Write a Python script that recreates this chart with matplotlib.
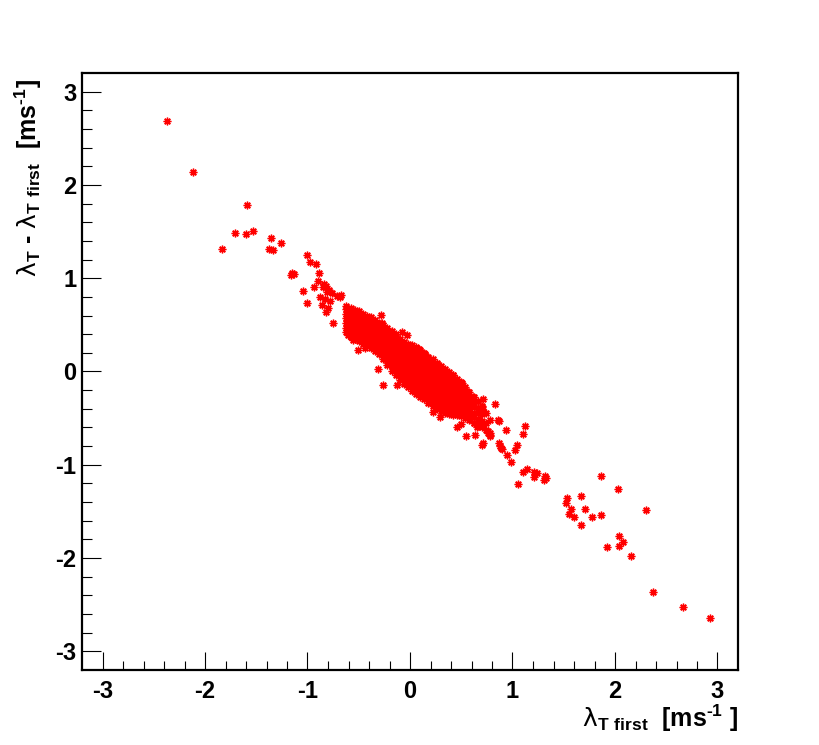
import matplotlib
matplotlib.use("Agg")
import matplotlib.pyplot as plt
import numpy as np

plt.rcParams['font.family'] = ['Liberation Sans', 'DejaVu Sans']
plt.rcParams['font.weight'] = 'bold'
plt.rcParams['axes.unicode_minus'] = False
plt.rcParams['mathtext.fontset'] = 'custom'
plt.rcParams['mathtext.rm'] = 'Liberation Sans:bold'
plt.rcParams['mathtext.bf'] = 'Liberation Sans:bold'
plt.rcParams['mathtext.sf'] = 'DejaVu Sans:normal'

# scattered points outside the dense core (lambda_T first, lambda_T - lambda_T first)
tail_x = [-2.37, -2.12, -1.59, -1.71, -1.60, -1.53, -1.83, -1.36, -1.26, -1.38, -1.34,
          -1.00, -0.98, -0.92, -1.15, -1.16, -1.13, -0.885, -0.895, -0.94, -1.04, -1.00,
          -0.84, -0.85, -0.82, -0.79, -0.81, -0.76, -0.715, -0.68, -0.67, -0.88, -0.83,
          -0.78, -0.86, -0.80, -0.82, -0.62, -0.60, -0.55, -0.53, -0.755]
tail_y = [2.69, 2.14, 1.78, 1.48, 1.47, 1.51, 1.31, 1.43, 1.38, 1.31, 1.30,
          1.25, 1.17, 1.15, 1.06, 1.03, 1.05, 1.06, 0.975, 0.91, 0.86, 0.73,
          0.94, 0.91, 0.92, 0.87, 0.85, 0.84, 0.81, 0.80, 0.82, 0.80, 0.78,
          0.76, 0.71, 0.68, 0.64, 0.70, 0.63, 0.65, 0.63, 0.52]

edge_x = [-0.28, -0.27, -0.51, -0.44, -0.56, -0.60, -0.31, -0.26, -0.13, -0.21, -0.08,
          -0.03, -0.15, 0.09, 0.15, 0.26, 0.325, 0.42, 0.51, 0.57, 0.61, 0.715, 0.83,
          0.70, 0.71, 0.86, 0.87, 1.12, 1.10, 0.94, 0.78, 0.765, 0.715, 0.705, 0.87,
          0.885, 1.04, 1.02, 0.95, 0.985, 0.55, 0.63, 0.455, 0.50, 0.29, 0.22, 0.88,
          0.895, 0.62, 0.65, 0.765, 0.78, 0.585, 0.67, 0.715]
edge_y = [0.61, 0.52, 0.23, 0.25, 0.34, 0.39, 0.03, -0.14, -0.14, 0.43, 0.42,
          0.39, 0.38, 0.24, 0.19, 0.075, 0.02, -0.035, -0.12, -0.22, -0.27, -0.29, -0.35,
          -0.365, -0.42, -0.52, -0.53, -0.58, -0.67, -0.63, -0.68, -0.64, -0.77, -0.79, -0.77,
          -0.82, -0.785, -0.84, -0.89, -0.965, -0.69, -0.68, -0.59, -0.56, -0.49, -0.43, -0.80,
          -0.83, -0.55, -0.59, -0.66, -0.695, -0.44, -0.52, -0.57]

low_x = [1.10, 1.14, 1.21, 1.21, 1.235, 1.32, 1.31, 1.33, 1.05, 1.86, 2.03, 2.30,
         1.535, 1.52, 1.67, 1.575, 1.71, 1.555, 1.60, 1.78, 1.86, 1.67, 2.04, 2.08,
         2.04, 1.925, 2.16, 2.37, 2.66, 2.93]
low_y = [-1.08, -1.05, -1.08, -1.13, -1.09, -1.125, -1.16, -1.14, -1.21, -1.12, -1.26, -1.48,
         -1.36, -1.405, -1.34, -1.47, -1.47, -1.53, -1.56, -1.56, -1.54, -1.65, -1.76, -1.83,
         -1.87, -1.885, -1.98, -2.36, -2.52, -2.64]

# dense core, read column by column (x, list of y)
core_cols = [
    (-0.62, [0.42, 0.47, 0.52, 0.57, 0.62, 0.67]),
    (-0.58, [0.37, 0.41, 0.46, 0.50, 0.55, 0.59, 0.64, 0.68]),
    (-0.54, [0.35, 0.39, 0.44, 0.48, 0.53, 0.57, 0.62, 0.66]),
    (-0.50, [0.33, 0.37, 0.42, 0.46, 0.51, 0.55, 0.60, 0.65]),
    (-0.46, [0.30, 0.35, 0.39, 0.44, 0.48, 0.53, 0.57, 0.62]),
    (-0.42, [0.28, 0.32, 0.37, 0.41, 0.46, 0.50, 0.55, 0.60]),
    (-0.38, [0.25, 0.30, 0.34, 0.39, 0.43, 0.48, 0.53, 0.58]),
    (-0.34, [0.22, 0.27, 0.31, 0.36, 0.40, 0.45, 0.50, 0.55]),
    (-0.30, [0.19, 0.24, 0.28, 0.33, 0.38, 0.42, 0.47, 0.52]),
    (-0.26, [0.13, 0.18, 0.22, 0.27, 0.31, 0.36, 0.41, 0.45, 0.50]),
    (-0.22, [0.07, 0.12, 0.16, 0.21, 0.25, 0.30, 0.34, 0.39, 0.43, 0.47]),
    (-0.18, [0.01, 0.06, 0.10, 0.15, 0.19, 0.24, 0.28, 0.33, 0.38, 0.43]),
    (-0.14, [-0.04, 0.01, 0.05, 0.10, 0.14, 0.19, 0.23, 0.28, 0.32, 0.37, 0.40]),
    (-0.10, [-0.09, -0.04, 0.00, 0.05, 0.09, 0.14, 0.18, 0.23, 0.27, 0.31, 0.35]),
    (-0.06, [-0.13, -0.08, -0.04, 0.01, 0.05, 0.10, 0.14, 0.19, 0.23, 0.28, 0.32]),
    (-0.02, [-0.17, -0.12, -0.08, -0.03, 0.01, 0.06, 0.10, 0.15, 0.19, 0.24, 0.28, 0.30]),
    (0.02, [-0.21, -0.16, -0.12, -0.07, -0.03, 0.02, 0.06, 0.11, 0.15, 0.20, 0.24, 0.28]),
    (0.06, [-0.24, -0.19, -0.15, -0.10, -0.06, -0.01, 0.03, 0.08, 0.12, 0.17, 0.21, 0.26]),
    (0.10, [-0.27, -0.22, -0.18, -0.13, -0.09, -0.04, 0.00, 0.05, 0.09, 0.14, 0.18, 0.23]),
    (0.14, [-0.30, -0.25, -0.21, -0.16, -0.12, -0.07, -0.03, 0.02, 0.06, 0.11, 0.16, 0.20]),
    (0.18, [-0.34, -0.29, -0.25, -0.20, -0.16, -0.11, -0.07, -0.02, 0.02, 0.07, 0.12, 0.16]),
    (0.22, [-0.37, -0.32, -0.28, -0.23, -0.19, -0.14, -0.10, -0.05, -0.01, 0.04, 0.09, 0.13]),
    (0.26, [-0.40, -0.35, -0.31, -0.26, -0.22, -0.17, -0.13, -0.08, -0.04, 0.01, 0.05, 0.09]),
    (0.30, [-0.42, -0.37, -0.33, -0.28, -0.24, -0.19, -0.15, -0.10, -0.06, -0.01, 0.03, 0.06]),
    (0.34, [-0.44, -0.39, -0.35, -0.30, -0.26, -0.21, -0.17, -0.12, -0.08, -0.03, 0.01, 0.03]),
    (0.38, [-0.46, -0.41, -0.37, -0.32, -0.28, -0.23, -0.19, -0.14, -0.10, -0.05, -0.01]),
    (0.42, [-0.47, -0.42, -0.38, -0.33, -0.29, -0.24, -0.20, -0.15, -0.11, -0.06, -0.04]),
    (0.46, [-0.47, -0.42, -0.38, -0.33, -0.29, -0.24, -0.20, -0.15, -0.11, -0.08]),
    (0.50, [-0.48, -0.43, -0.39, -0.34, -0.30, -0.25, -0.21, -0.16, -0.11]),
    (0.54, [-0.50, -0.45, -0.41, -0.36, -0.32, -0.27, -0.22, -0.17]),
    (0.58, [-0.52, -0.47, -0.42, -0.37, -0.32, -0.27, -0.22]),
    (0.62, [-0.55, -0.49, -0.44, -0.38, -0.33, -0.27]),
    (0.66, [-0.58, -0.51, -0.45, -0.39, -0.32]),
    (0.70, [-0.60, -0.53, -0.46, -0.38]),
    (0.74, [-0.63, -0.55, -0.45]),
    (0.78, [-0.66, -0.52]),
]

core_x = [cx for cx, ys in core_cols for _ in ys]
core_y = [y for cx, ys in core_cols for y in ys]

all_x = tail_x + edge_x + low_x + core_x
all_y = tail_y + edge_y + low_y + core_y

fig = plt.figure(figsize=(8.2, 7.45), dpi=100)
ax = fig.add_axes([0.1, 0.1007, 0.8, 0.8013])

ax.plot(all_x, all_y, linestyle='none', marker=(8, 2, 0), markersize=5.5,
        markeredgewidth=1.0, color='#ff0000')

ax.set_xlim(-3.2, 3.2)
ax.set_ylim(-3.2, 3.2)
ax.set_xticks([-3, -2, -1, 0, 1, 2, 3])
ax.set_yticks([-3, -2, -1, 0, 1, 2, 3])
ax.set_xticks(np.arange(-3.0, 3.01, 0.2), minor=True)
ax.set_yticks(np.arange(-3.0, 3.01, 0.2), minor=True)

for s in ax.spines.values():
    s.set_linewidth(1.6)

ax.tick_params(axis='x', which='major', direction='in', length=13, width=0.8,
               labelsize=17, pad=7, top=False)
ax.tick_params(axis='x', which='minor', direction='in', length=6.5, width=0.8, top=False)
ax.tick_params(axis='y', which='major', direction='in', length=14, width=0.8,
               labelsize=17, pad=4, right=False)
ax.tick_params(axis='y', which='minor', direction='in', length=7, width=0.8, right=False)
for lab in ax.get_xticklabels() + ax.get_yticklabels():
    lab.set_fontweight('bold')

fig.text(738 / 820, 1 - 718 / 745,
         r'$\mathsf{\lambda}_{\mathrm{T\ first}}$  [ms$^{\mathrm{\text{-}1}}$ ]',
         ha='right', va='center', fontsize=18, fontweight='bold')
fig.text(28 / 820, 1 - 79 / 745,
         r'$\mathsf{\lambda}_{\mathrm{T}}$ - $\mathsf{\lambda}_{\mathrm{T\ first}}$  [ms$^{\mathrm{\text{-}1}}$]',
         ha='center', va='top', rotation=90, fontsize=18, fontweight='bold')

fig.savefig('out.png', dpi=100)
